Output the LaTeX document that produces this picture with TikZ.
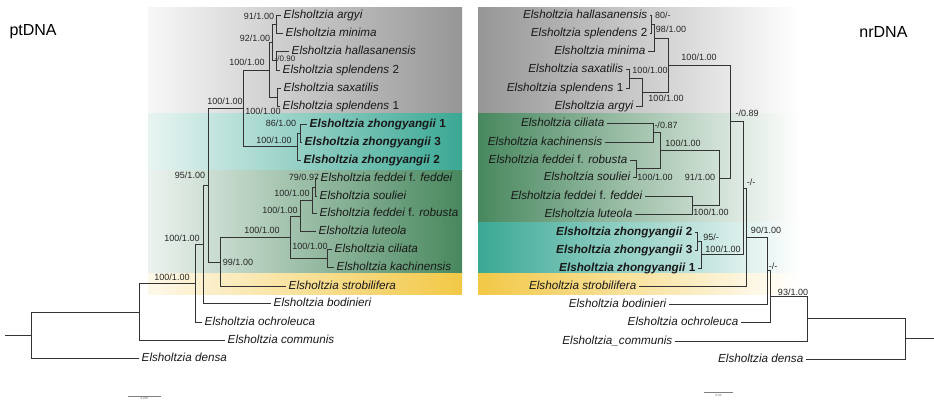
\documentclass[tikz,border=0pt]{standalone}
\usepackage{fontspec}
\setmainfont{Liberation Sans}
\definecolor{grayband}{RGB}{150,150,150}
\definecolor{tealband}{RGB}{58,168,148}
\definecolor{greenband}{RGB}{72,136,94}
\definecolor{yellowband}{RGB}{242,200,70}

\begin{document}
\begin{tikzpicture}[x=1pt,y=-1pt,
  branch/.style={draw=black!80,line width=1pt},
  tipL/.style={anchor=west,inner sep=2.5pt,text height=8pt,text depth=2pt,text=black!90,font=\fontsize{11.7}{13}\selectfont\itshape},
  tipR/.style={tipL,anchor=east},
  supp/.style={inner sep=0pt,text=black!85,font=\fontsize{9}{10}\selectfont},
  scalebar/.style={draw=black!50,line width=0.8pt}]
\useasboundingbox (0,0) rectangle (934,402);
\shade[left color=black!3,right color=grayband] (148,7) rectangle (462,113);
\shade[left color=tealband!12,right color=tealband] (148,113) rectangle (462,170);
\shade[left color=greenband!10,right color=greenband] (148,170) rectangle (462,273);
\shade[left color=yellowband!12,right color=yellowband] (148,273) rectangle (462,294);
\shade[left color=grayband,right color=white] (478,7) rectangle (800,113);
\shade[left color=greenband,right color=white] (478,113) rectangle (800,222);
\shade[left color=tealband,right color=white] (478,222) rectangle (800,273);
\shade[left color=yellowband,right color=white] (478,273) rectangle (800,294);
\node[anchor=west,font=\fontsize{16}{18}\selectfont] (ptTitle) at (6,32) {ptDNA};
\node[anchor=east,font=\fontsize{16}{18}\selectfont] (nrTitle) at (911,32) {nrDNA};
\node[tipL] (lArgyi) at (281,15) {Elsholtzia argyi};
\node[tipL] (lMinima) at (283,33) {Elsholtzia minima};
\node[tipL] (lHalla) at (289,51) {Elsholtzia hallasanensis};
\node[tipL] (lSplTwo) at (280,70) {Elsholtzia splendens \textup{2}};
\node[tipL] (lSaxa) at (281,88) {Elsholtzia saxatilis};
\node[tipL] (lSplOne) at (280,106) {Elsholtzia splendens \textup{1}};
\node[tipL] (lZhOne) at (307,124) {\textbf{Elsholtzia zhongyangii \textup{1}}};
\node[tipL] (lZhThree) at (302,142) {\textbf{Elsholtzia zhongyangii \textup{3}}};
\node[tipL] (lZhTwo) at (301,160) {\textbf{Elsholtzia zhongyangii \textup{2}}};
\node[tipL] (lFeddei) at (318,178) {Elsholtzia feddei \textup{f.} feddei};
\node[tipL] (lSoul) at (317,196) {Elsholtzia souliei};
\node[tipL] (lRobu) at (317,213) {Elsholtzia feddei \textup{f.} robusta};
\node[tipL] (lLute) at (316,231) {Elsholtzia luteola};
\node[tipL] (lCili) at (332,249) {Elsholtzia ciliata};
\node[tipL] (lKach) at (334,267) {Elsholtzia kachinensis};
\node[tipL] (lStro) at (286,286) {Elsholtzia strobilifera};
\node[tipL] (lBodi) at (271,303) {Elsholtzia bodinieri};
\node[tipL] (lOchr) at (202,322) {Elsholtzia ochroleuca};
\node[tipL] (lComm) at (225,340) {Elsholtzia communis};
\node[tipL] (lDensa) at (139,358) {Elsholtzia densa};
\coordinate (lL) at (276,24);
\coordinate (lM) at (276,60);
\coordinate (lJ) at (272,42);
\coordinate (lK) at (277,97);
\coordinate (lG) at (269,70);
\coordinate (lI) at (300,133);
\coordinate (lH) at (297,146);
\coordinate (lF) at (243,108);
\coordinate (lR) at (315,187);
\coordinate (lQ) at (312,200);
\coordinate (lO) at (300,216);
\coordinate (lP) at (327,258);
\coordinate (lN) at (290,237);
\coordinate (lE) at (220,262);
\coordinate (lD) at (208,185);
\coordinate (lC) at (203,244);
\coordinate (lB) at (195,283);
\coordinate (lA) at (139,312);
\coordinate (lRoot) at (31,335);
\coordinate (lStub) at (5,335);
\draw[branch] (lL) |- (lArgyi.west) (lL) |- (lMinima.west);
\draw[branch] (lM) |- (lHalla.west) (lM) |- (lSplTwo.west);
\draw[branch] (lJ) |- (lL) (lJ) |- (lM);
\draw[branch] (lK) |- (lSaxa.west) (lK) |- (lSplOne.west);
\draw[branch] (lG) |- (lJ) (lG) |- (lK);
\draw[branch] (lI) |- (lZhOne.west) (lI) |- (lZhThree.west);
\draw[branch] (lH) |- (lI) (lH) |- (lZhTwo.west);
\draw[branch] (lF) |- (lG) (lF) |- (lH);
\draw[branch] (lR) |- (lFeddei.west) (lR) |- (lSoul.west);
\draw[branch] (lQ) |- (lR) (lQ) |- (lRobu.west);
\draw[branch] (lO) |- (lQ) (lO) |- (lLute.west);
\draw[branch] (lP) |- (lCili.west) (lP) |- (lKach.west);
\draw[branch] (lN) |- (lO) (lN) |- (lP);
\draw[branch] (lE) |- (lN) (lE) |- (lStro.west);
\draw[branch] (lD) |- (lF) (lD) |- (lE);
\draw[branch] (lC) |- (lD) (lC) |- (lBodi.west);
\draw[branch] (lB) |- (lC) (lB) |- (lOchr.west);
\draw[branch] (lA) |- (lB) (lA) |- (lComm.west);
\draw[branch] (lRoot) |- (lA) (lRoot) |- (lDensa.west);
\draw[branch] (lStub) -- (lRoot);
\node[supp] (lsL) at (259,16) {91/1.00};
\node[supp] (lsJ) at (255,38) {92/1.00};
\node[supp,font=\fontsize{8}{9}\selectfont] (lsM) at (285,59) {-/0.90};
\node[supp] (lsG) at (247,62) {100/1.00};
\node[supp] (lsK) at (263,111) {100/1.00};
\node[supp] (lsF) at (225,101) {100/1.00};
\node[supp] (lsI) at (281,123) {86/1.00};
\node[supp] (lsH) at (274,140) {100/1.00};
\node[supp] (lsD) at (190,175) {95/1.00};
\node[supp] (lsR) at (304,177) {79/0.97};
\node[supp] (lsQ) at (292,193) {100/1.00};
\node[supp] (lsO) at (280,210) {100/1.00};
\node[supp] (lsN) at (262,230) {100/1.00};
\node[supp] (lsC) at (182,238) {100/1.00};
\node[supp] (lsP) at (310,246) {100/1.00};
\node[supp] (lsE) at (238,262) {99/1.00};
\node[supp] (lsB) at (172,277) {100/1.00};
\node[tipR] (rHalla) at (650,15) {Elsholtzia hallasanensis};
\node[tipR] (rSplTwo) at (650,33) {Elsholtzia splendens \textup{2}};
\node[tipR] (rMinima) at (648,51) {Elsholtzia minima};
\node[tipR] (rSaxa) at (626,69) {Elsholtzia saxatilis};
\node[tipR] (rSplOne) at (626,88) {Elsholtzia splendens \textup{1}};
\node[tipR] (rArgyi) at (636,106) {Elsholtzia argyi};
\node[tipR] (rCili) at (607,123) {Elsholtzia ciliata};
\node[tipR] (rKach) at (605,142) {Elsholtzia kachinensis};
\node[tipR] (rRobu) at (630,160) {Elsholtzia feddei \textup{f.} robusta};
\node[tipR] (rSoul) at (633,177) {Elsholtzia souliei};
\node[tipR] (rFeddei) at (645,196) {Elsholtzia feddei \textup{f.} feddei};
\node[tipR] (rLute) at (635,214) {Elsholtzia luteola};
\node[tipR] (rZhTwo) at (695,232) {\textbf{Elsholtzia zhongyangii \textup{2}}};
\node[tipR] (rZhThree) at (695,250) {\textbf{Elsholtzia zhongyangii \textup{3}}};
\node[tipR] (rZhOne) at (698,268) {\textbf{Elsholtzia zhongyangii \textup{1}}};
\node[tipR] (rStro) at (639,286) {Elsholtzia strobilifera};
\node[tipR] (rBodi) at (669,304) {Elsholtzia bodinieri};
\node[tipR] (rOchr) at (741,322) {Elsholtzia ochroleuca};
\node[tipR] (rComm) at (675,341) {Elsholtzia\_communis};
\node[tipR] (rDensa) at (806,359) {Elsholtzia densa};
\coordinate (rL) at (651,24);
\coordinate (rJ) at (654,38);
\coordinate (rM) at (629,78);
\coordinate (rK) at (642,92);
\coordinate (rH) at (668,65);
\coordinate (rP) at (653,132);
\coordinate (rQ) at (636,168);
\coordinate (rN) at (660,150);
\coordinate (rO) at (692,205);
\coordinate (rI) at (719,178);
\coordinate (rF) at (730,121);
\coordinate (rR) at (697,241);
\coordinate (rG) at (701,254);
\coordinate (rE) at (743,188);
\coordinate (rD) at (746,237);
\coordinate (rC) at (767,270);
\coordinate (rB) at (770,296);
\coordinate (rA) at (807,318);
\coordinate (rRoot) at (905,338);
\coordinate (rStub) at (934,338);
\draw[branch] (rL) |- (rHalla.east) (rL) |- (rSplTwo.east);
\draw[branch] (rJ) |- (rL) (rJ) |- (rMinima.east);
\draw[branch] (rM) |- (rSaxa.east) (rM) |- (rSplOne.east);
\draw[branch] (rK) |- (rM) (rK) |- (rArgyi.east);
\draw[branch] (rH) |- (rJ) (rH) |- (rK);
\draw[branch] (rP) |- (rCili.east) (rP) |- (rKach.east);
\draw[branch] (rQ) |- (rRobu.east) (rQ) |- (rSoul.east);
\draw[branch] (rN) |- (rP) (rN) |- (rQ);
\draw[branch] (rO) |- (rFeddei.east) (rO) |- (rLute.east);
\draw[branch] (rI) |- (rN) (rI) |- (rO);
\draw[branch] (rF) |- (rH) (rF) |- (rI);
\draw[branch] (rR) |- (rZhTwo.east) (rR) |- (rZhThree.east);
\draw[branch] (rG) |- (rR) (rG) |- (rZhOne.east);
\draw[branch] (rE) |- (rF) (rE) |- (rG);
\draw[branch] (rD) |- (rE) (rD) |- (rStro.east);
\draw[branch] (rC) |- (rD) (rC) |- (rBodi.east);
\draw[branch] (rB) |- (rC) (rB) |- (rOchr.east);
\draw[branch] (rA) |- (rB) (rA) |- (rComm.east);
\draw[branch] (rRoot) |- (rA) (rRoot) |- (rDensa.east);
\draw[branch] (rStub) -- (rRoot);
\node[supp,anchor=west] (rsL) at (655,15) {80/-};
\node[supp] (rsJ) at (671,29) {98/1.00};
\node[supp] (rsH) at (699,57) {100/1.00};
\node[supp] (rsM) at (650,70) {100/1.00};
\node[supp] (rsK) at (666,98) {100/1.00};
\node[supp] (rsF) at (747,113) {-/0.89};
\node[supp] (rsP) at (666,125) {-/0.87};
\node[supp] (rsN) at (683,143) {100/1.00};
\node[supp] (rsQ) at (655,177) {100/1.00};
\node[supp] (rsI) at (700,177) {91/1.00};
\node[supp] (rsO) at (711,212) {100/1.00};
\node[supp] (rsE) at (751,182) {-/-};
\node[supp] (rsD) at (766,230) {90/1.00};
\node[supp] (rsR) at (711,237) {95/-};
\node[supp] (rsG) at (723,249) {100/1.00};
\node[supp] (rsC) at (773,266) {-/-};
\node[supp] (rsA) at (793,292) {93/1.00};
\coordinate (lBarA) at (128,396);
\coordinate (lBarB) at (161,396);
\draw[scalebar] (lBarA) -- (lBarB) node[midway,below=0.5pt,inner sep=0pt,font=\fontsize{3}{3}\selectfont,text=black!60] (lBarText) {0.005};
\coordinate (rBarA) at (704,392);
\coordinate (rBarB) at (733,392);
\draw[scalebar] (rBarA) -- (rBarB) node[midway,below=1.5pt,inner sep=0pt,font=\fontsize{3}{3}\selectfont,text=black!60] (rBarText) {0.03};
\end{tikzpicture}
\end{document}
